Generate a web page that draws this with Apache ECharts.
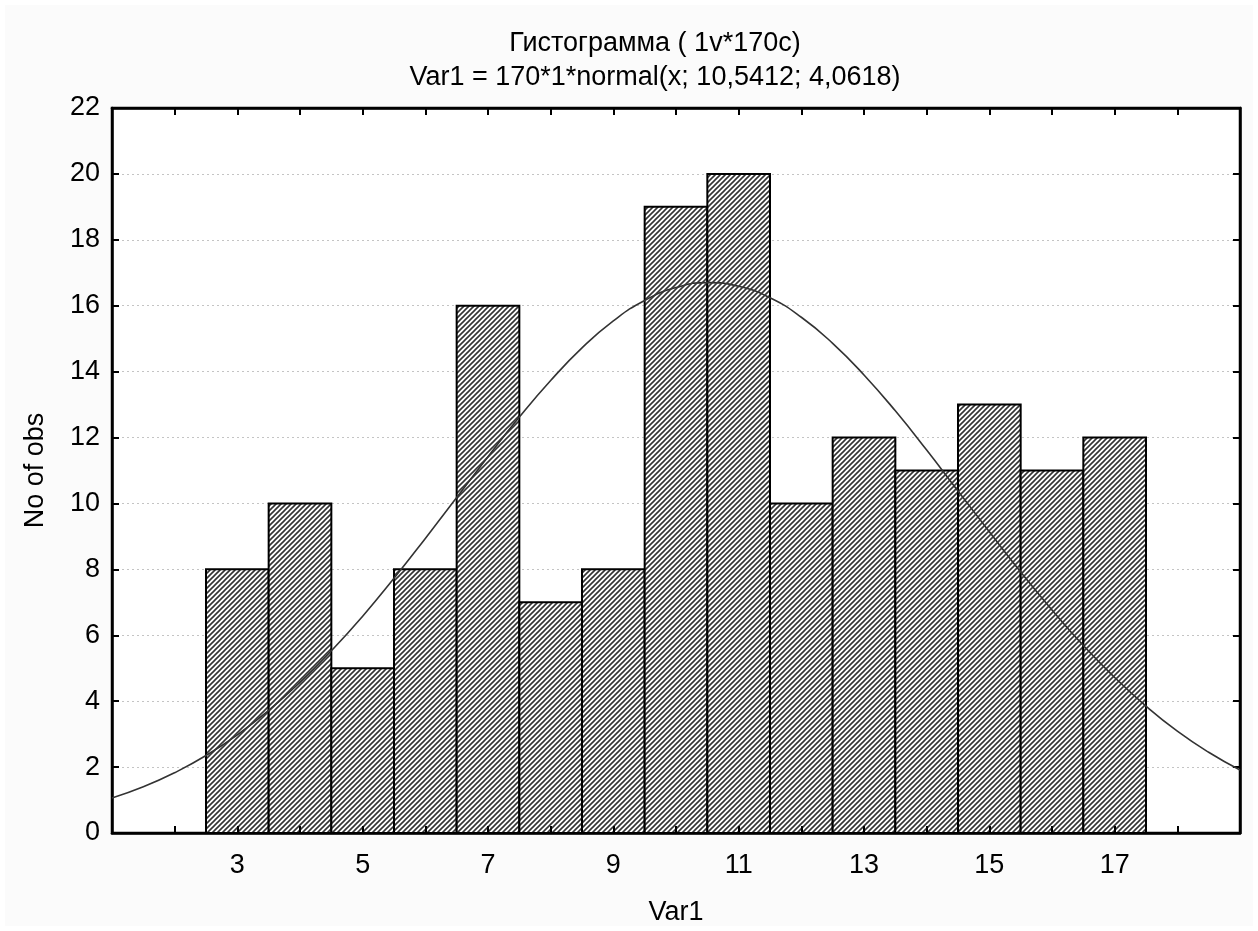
<!DOCTYPE html>
<html><head><meta charset="utf-8">
<script src="https://cdn.jsdelivr.net/npm/echarts@6/dist/echarts.min.js"></script>
<style>html,body{margin:0;padding:0;background:#fff}#c{width:1258px;height:931px}</style>
</head><body><div id="c"></div>
<script>
var binCenters = [3,4,5,6,7,8,9,10,11,12,13,14,15,16,17];
var binCounts  = [8,10,5,8,16,7,8,19,20,10,12,11,13,11,12];
var xTickLabels = [3,5,7,9,11,13,15,17];
var yTickLabels = [0,2,4,6,8,10,12,14,16,18,20,22];
var curveX = [1,1.5,2,2.5,3,3.5,4,4.5,5,5.5,6,6.5,7,7.5,8,8.5,9,9.5,10,10.5,11,11.5,12,12.5,13,13.5,14,14.5,15,15.5,16,16.5,17,17.5,18,18.5,19];
var curveY = [1.06,1.40,1.83,2.35,2.98,3.72,4.57,5.53,6.58,7.73,8.94,10.18,11.42,12.62,13.73,14.72,15.54,16.16,16.55,16.70,16.59,16.24,15.65,14.86,13.90,12.81,11.62,10.38,9.14,7.92,6.77,5.69,4.72,3.85,3.09,2.45,1.91];
var titleLine1 = 'Гистограмма ( 1v*170c)';
var titleLine2 = 'Var1 = 170*1*normal(x; 10,5412; 4,0618)';

var pc = document.createElement('canvas');
pc.width = 5; pc.height = 5;
var g = pc.getContext('2d');
g.fillStyle = '#ffffff'; g.fillRect(0,0,5,5);
g.strokeStyle = '#333333'; g.lineWidth = 1.6;
g.beginPath();
g.moveTo(-1,6); g.lineTo(6,-1);
g.moveTo(-6,6); g.lineTo(1,-1);
g.moveTo(4,6); g.lineTo(11,-1);
g.stroke();

var font = '"Liberation Sans", Arial, sans-serif';
var FS = 27;
var chart = echarts.init(document.getElementById('c'));
var lineData = curveX.map(function(x,i){return [x, curveY[i]];});
var barData = binCenters.map(function(x,i){return [x, binCounts[i]];});

function tickAxis(extra){
  var base = {
    axisLine:{show:true, onZero:false, lineStyle:{color:'#000', width:2.5}},
    axisTick:{show:true, inside:true, length:7, lineStyle:{color:'#000', width:2}},
    splitLine:{show:false}, axisLabel:{show:false}
  };
  for (var k in extra) base[k] = extra[k];
  return base;
}

chart.setOption({
  backgroundColor: '#ffffff',
  animation: false,
  textStyle: {fontFamily: font},
  graphic: [{type:'rect', z:-10, shape:{x:5,y:5,width:1248,height:921}, style:{fill:'#fbfbfb'}}],
  title: [
    {text: titleLine1, left: 650, top: 25, textAlign: 'center', textStyle:{fontFamily:font,fontSize:FS,fontWeight:'normal',color:'#000',lineHeight:FS}},
    {text: titleLine2, left: 650, top: 59, textAlign: 'center', textStyle:{fontFamily:font,fontSize:FS,fontWeight:'normal',color:'#000',lineHeight:FS}}
  ],
  grid: {left:112, right:18, top:108, bottom:98, show:true, backgroundColor:'#ffffff', borderColor:'#000', borderWidth:2.5},
  xAxis: [
    tickAxis({type:'value', min:1, max:19, interval:1, position:'bottom', z:4,
     name:'Var1', nameLocation:'middle', nameGap:66, nameMoveOverlap:false, nameTextStyle:{fontFamily:font,fontSize:FS,color:'#000'},
     axisLabel:{show:true, margin:19, fontSize:FS, color:'#000', fontFamily:font, showMinLabel:true, showMaxLabel:true,
       formatter:function(v){return xTickLabels.indexOf(v)>=0 ? String(v) : '';}}}),
    tickAxis({type:'value', min:1, max:19, interval:1, position:'top', z:4})
  ],
  yAxis: [
    tickAxis({type:'value', min:0, max:22, interval:2, position:'left', z:1,
     name:'No of obs', nameLocation:'middle', nameGap:63, nameMoveOverlap:false, nameTextStyle:{fontFamily:font,fontSize:FS,color:'#000'},
     axisLabel:{show:true, margin:12, fontSize:FS, color:'#000', fontFamily:font,
       formatter:function(v){return yTickLabels.indexOf(v)>=0 ? String(v) : '';}},
     splitLine:{show:true, lineStyle:{color:'#c4c4c4', type:[2,3], width:1}}}),
    tickAxis({type:'value', min:0, max:22, interval:2, position:'right', z:4})
  ],
  series: [
    {type:'custom', xAxisIndex:0, yAxisIndex:0, z:2, data: barData,
     renderItem: function(params, api){
       var x = api.value(0), y = api.value(1);
       var p1 = api.coord([x-0.5, y]);
       var p2 = api.coord([x+0.5, 0]);
       return {type:'rect', shape:{x:p1[0], y:p1[1], width:p2[0]-p1[0], height:p2[1]-p1[1]},
         style:{fill:{image:pc, repeat:'repeat'}, stroke:'#000', lineWidth:2}};
     }},
    {type:'line', xAxisIndex:0, yAxisIndex:0, z:5, data: lineData, smooth:true, symbol:'none',
     lineStyle:{color:'#333', width:1.6}}
  ]
});
</script></body></html>
